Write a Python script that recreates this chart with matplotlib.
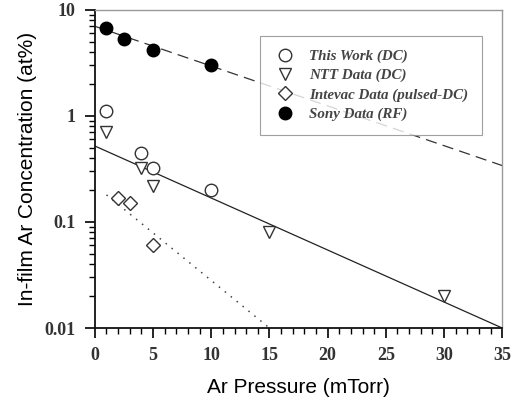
import matplotlib
matplotlib.use("Agg")
from matplotlib import pyplot as plt
from matplotlib.ticker import LogLocator, NullFormatter, MultipleLocator, FixedFormatter, FixedLocator

# data
this_work_x = [1, 4, 5, 10]
this_work_y = [1.1, 0.45, 0.32, 0.2]
ntt_x = [1, 4, 5, 15, 30]
ntt_y = [0.7, 0.32, 0.22, 0.08, 0.02]
intevac_x = [2, 3, 5]
intevac_y = [0.17, 0.15, 0.06]
sony_x = [1, 2.5, 5, 10]
sony_y = [6.8, 5.3, 4.2, 3.0]

# fit lines (end points)
sony_fit_x = [0, 35]
sony_fit_y = [7.0, 0.34]
dc_fit_x = [0, 35]
dc_fit_y = [0.52, 0.01]
intevac_fit_x = [1, 15]
intevac_fit_y = [0.18, 0.01]

serif = "Liberation Serif"
sans = "Liberation Sans"

fig = plt.figure(figsize=(5.27, 4.09), dpi=100)
ax = fig.add_axes([0.180, 0.198, 0.773, 0.778])

ax.plot(sony_fit_x, sony_fit_y, color="#333333", linestyle=(0, (9, 5)), linewidth=0.9)
ax.plot(dc_fit_x, dc_fit_y, color="#222222", linestyle="-", linewidth=0.9)
ax.plot(intevac_fit_x, intevac_fit_y, color="#444444", linestyle=(0, (1, 4)), linewidth=1.1)

ax.plot(this_work_x, this_work_y, "o", mfc="white", mec="#333333", ms=9, mew=1.0, label="This Work (DC)")
ax.plot(ntt_x, ntt_y, "v", mfc="white", mec="#333333", ms=9, mew=1.0, label="NTT Data (DC)")
ax.plot(intevac_x, intevac_y, "D", mfc="white", mec="#333333", ms=7, mew=1.0, label="Intevac Data (pulsed-DC)")
ax.plot(sony_x, sony_y, "o", mfc="black", mec="black", ms=9, label="Sony Data (RF)")

ax.set_yscale("log")
ax.set_xlim(0, 35)
ax.set_ylim(0.01, 10)

ax.xaxis.set_major_locator(MultipleLocator(5))
ax.xaxis.set_minor_locator(MultipleLocator(1))
ax.yaxis.set_major_locator(FixedLocator([0.01, 0.1, 1, 10]))
ax.yaxis.set_major_formatter(FixedFormatter(["0.01", "0.1", "1", "10"]))
ax.yaxis.set_minor_locator(LogLocator(base=10, subs=range(2, 10)))
ax.yaxis.set_minor_formatter(NullFormatter())

ax.tick_params(which="both", direction="out", top=False, right=False)
ax.tick_params(which="major", length=7, width=1.2, labelsize=13, pad=7)
ax.tick_params(which="minor", length=4, width=1.0)
for lab in ax.get_xticklabels() + ax.get_yticklabels():
    lab.set_fontfamily(serif)
    lab.set_fontweight("bold")
    lab.set_color("#333333")

for s in ["left", "bottom"]:
    ax.spines[s].set_linewidth(1.3)
    ax.spines[s].set_color("#111111")
for s in ["top", "right"]:
    ax.spines[s].set_linewidth(1.0)
    ax.spines[s].set_color("#999999")

ax.set_xlabel("Ar Pressure (mTorr)", fontfamily=sans, fontsize=15, labelpad=10)
ax.set_ylabel("In-film Ar Concentration (at%)", fontfamily=sans, fontsize=15, labelpad=5)

leg = ax.legend(loc="upper left", bbox_to_anchor=(0.405, 0.918), borderaxespad=0,
                frameon=True, fancybox=False,
                edgecolor="#888888", borderpad=0.9, handletextpad=0.8, labelspacing=0.38,
                handlelength=1.6,
                prop={"family": serif, "style": "italic", "weight": "bold", "size": 10.8})
leg.get_frame().set_linewidth(0.8)
for t in leg.get_texts():
    t.set_color("#444444")

fig.savefig("out.png", dpi=100)
